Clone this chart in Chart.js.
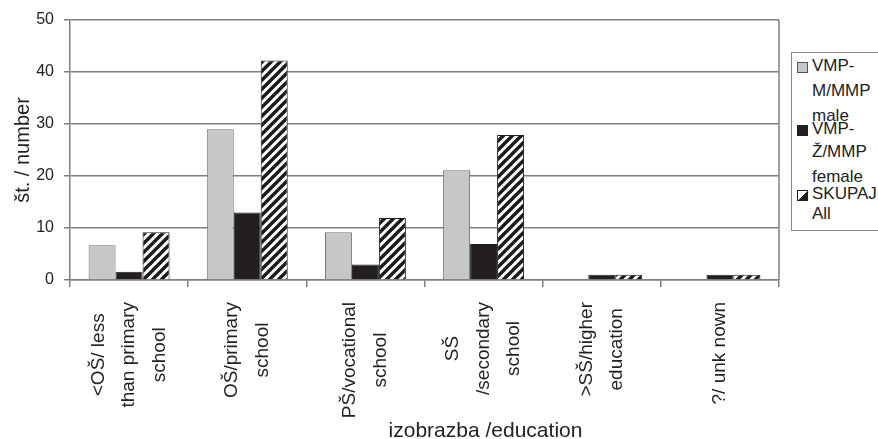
<!DOCTYPE html>
<html><head><meta charset="utf-8">
<script src="https://cdn.jsdelivr.net/npm/chart.js@4"></script>
<style>
html,body{margin:0;padding:0;background:#fff;overflow:hidden}
#wrap{position:relative;width:878px;height:439px;overflow:hidden}
canvas{position:absolute;left:0;top:0}
#legend{position:absolute;left:791px;top:52px;width:100px;height:177px;border:1px solid #888;background:#fff;font-family:"Liberation Sans",Arial,sans-serif;font-size:17px;color:#222}
.sw{position:absolute;left:5px;width:9px;height:9px;border:1px solid #555}
.lt{position:absolute;left:20px;line-height:16px;white-space:nowrap}
</style></head>
<body><div id="wrap"><canvas id="c" width="878" height="439"></canvas>
<div id="legend">
<div class="sw" style="top:9px;background:#c6c7c9"></div>
<div class="lt" style="top:5px">VMP-</div>
<div class="lt" style="top:30px">M/MMP</div>
<div class="lt" style="top:55px">male</div>
<div class="sw" style="top:72px;background:#231f20;border-color:#231f20"></div>
<div class="lt" style="top:68px">VMP-</div>
<div class="lt" style="top:91px">Ž/MMP</div>
<div class="lt" style="top:116px">female</div>
<div class="sw" style="top:137px;background:linear-gradient(135deg,#fff 50%,#231f20 50%);border-color:#231f20"></div>
<div class="lt" style="top:133px">SKUPAJ</div>
<div class="lt" style="top:153px">All</div>
</div></div>
<script>
const categories = [["<OŠ/ less","than primary","school"],["OŠ/primary","school"],["PŠ/vocational","school"],["SŠ","/secondary","school"],[">SŠ/higher","education"],["?/ unk nown"]];
const seriesNames = ["VMP-M/MMP male","VMP-Ž/MMP female","SKUPAJ All"];
const maleValues = [6.7, 29, 9.2, 21.1, 0, 0];
const femaleValues = [1.6, 13, 3, 6.9, 1, 1];
const allValues = [9.2, 42.2, 11.9, 27.9, 1, 1];
const yTickStep = 10;
const yMax = 50;
const xTitle = "izobrazba /education";
const yTitle = "št. / number";

const FAM = '"Liberation Sans", Arial, sans-serif';

function hatch(){
  const s=9;
  const c=document.createElement('canvas');c.width=s;c.height=s;
  const g=c.getContext('2d');
  g.fillStyle='#fff';g.fillRect(0,0,s,s);
  g.strokeStyle='#1a1a1a';g.lineWidth=3.4;g.lineCap='square';
  g.beginPath();
  g.moveTo(-2,s+2);g.lineTo(s+2,-2);
  g.moveTo(-3,3);g.lineTo(3,-3);
  g.moveTo(s-3,s+3);g.lineTo(s+3,s-3);
  g.stroke();
  return g.createPattern(c,'repeat');
}

const labelPlugin = {
  id:'xlabels',
  afterDraw(chart){
    const ctx=chart.ctx, xs=chart.scales.x, ca=chart.chartArea;
    ctx.save();
    ctx.strokeStyle='#808080';ctx.lineWidth=1.5;
    ctx.beginPath();ctx.moveTo(ca.right,ca.top);ctx.lineTo(ca.right,ca.bottom);ctx.stroke();
    ctx.font='19px '+FAM;ctx.fillStyle='#222';ctx.textAlign='center';ctx.textBaseline='middle';
    const top=ca.bottom+22, lh=30.5;
    categories.forEach((lines,i)=>{
      const cx=xs.getPixelForValue(i);
      const maxW=Math.max(...lines.map(l=>ctx.measureText(l).width));
      const cy=top+maxW/2;
      lines.forEach((l,j)=>{
        const x=cx+(j-(lines.length-1)/2)*lh;
        ctx.save();ctx.translate(x,cy);ctx.rotate(-Math.PI/2);ctx.fillText(l,0,0);ctx.restore();
      });
    });
    ctx.font='21px '+FAM;ctx.textBaseline='alphabetic';
    ctx.fillText(xTitle,(ca.left+ca.right)/2+61,437);
    ctx.restore();
  }
};

new Chart(document.getElementById('c'),{
  type:'bar',
  data:{
    labels:categories.map(l=>l.join(' ')),
    datasets:[
      {label:seriesNames[0],data:maleValues,backgroundColor:'#c6c7c9',borderColor:'#6d6e70',borderWidth:1},
      {label:seriesNames[1],data:femaleValues,backgroundColor:'#231f20',borderColor:'#231f20',borderWidth:1},
      {label:seriesNames[2],data:allValues,backgroundColor:hatch(),borderColor:'#231f20',borderWidth:1}
    ]
  },
  options:{
    responsive:false,animation:false,events:[],
    layout:{padding:{top:20,right:99,bottom:0,left:0}},
    plugins:{legend:{display:false},tooltip:{enabled:false}},
    datasets:{bar:{categoryPercentage:0.685,barPercentage:1}},
    scales:{
      x:{
        grid:{offset:true,drawOnChartArea:false,drawTicks:true,tickLength:7,color:'#808080',lineWidth:1.5},
        border:{color:'#808080',width:1.5},
        ticks:{display:false},
        afterFit:s=>{s.height=159;}
      },
      y:{
        min:0,max:yMax,
        ticks:{stepSize:yTickStep,font:{size:16,family:FAM},color:'#222',padding:10},
        grid:{color:'#808080',lineWidth:1.5,tickLength:6},
        border:{color:'#808080',width:1.5},
        title:{display:true,text:yTitle,font:{size:20,family:FAM},color:'#222',padding:{top:11,bottom:0}},
        afterFit:s=>{s.width=70;}
      }
    }
  },
  plugins:[labelPlugin]
});
</script>
</body></html>
